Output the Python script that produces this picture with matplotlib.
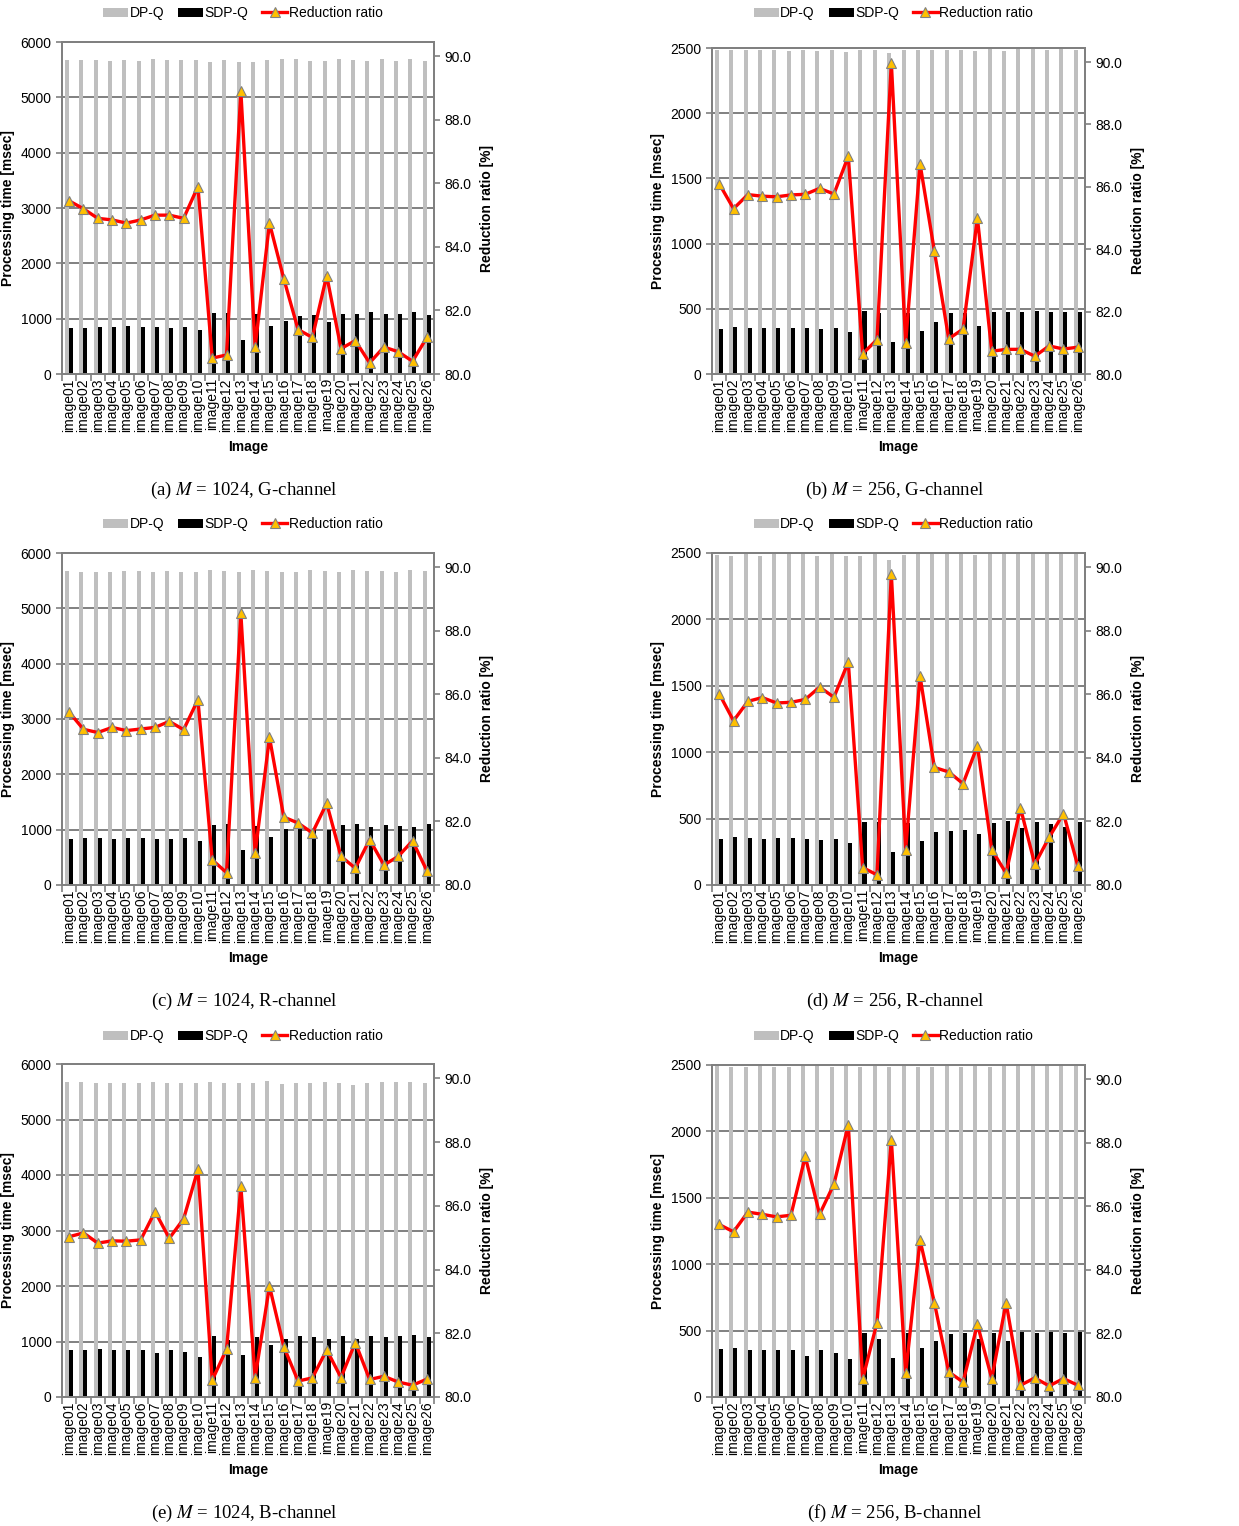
import matplotlib.pyplot as plt
from matplotlib.patches import Patch
from matplotlib.lines import Line2D
import numpy as np

images = [f"image{i:02d}" for i in range(1, 27)]

# (a) M = 1024, G-channel
dpq_a = [5680, 5670, 5675, 5665, 5675, 5660, 5694, 5670, 5680, 5670, 5645, 5675, 5640,
         5640, 5680, 5695, 5694, 5665, 5655, 5700, 5680, 5665, 5700, 5665, 5690, 5665]
sdpq_a = [826, 838, 850, 850, 868, 850, 844, 838, 850, 796, 1098, 1098, 621,
          1080, 862, 965, 1055, 1061, 947, 1092, 1080, 1116, 1092, 1092, 1116, 1061]
ratio_a = [85.45, 85.2, 84.9, 84.85, 84.75, 84.85, 85.0, 85.0, 84.9, 85.9, 80.5, 80.6, 88.9,
           80.85, 84.75, 83.0, 81.4, 81.15, 83.1, 80.8, 81.05, 80.35, 80.85, 80.7, 80.4, 81.15]

# (b) M = 256, G-channel
dpq_b = [2482, 2482, 2482, 2482, 2482, 2474, 2482, 2478, 2482, 2469, 2482, 2482, 2464,
         2482, 2482, 2482, 2482, 2482, 2478, 2492, 2474, 2500, 2490, 2482, 2500, 2482]
sdpq_b = [342, 363, 352, 352, 352, 350, 352, 347, 352, 322, 483, 465, 248,
          470, 330, 398, 470, 465, 368, 478, 472, 478, 483, 472, 478, 472]
ratio_b = [86.1, 85.3, 85.75, 85.7, 85.68, 85.74, 85.76, 85.95, 85.77, 86.98, 80.65, 81.1, 89.98,
           81.0, 86.74, 83.94, 81.13, 81.44, 85.0, 80.73, 80.79, 80.79, 80.57, 80.9, 80.8, 80.86]

# (c) M = 1024, R-channel
dpq_c = [5669, 5657, 5657, 5650, 5669, 5669, 5663, 5669, 5650, 5663, 5693, 5681, 5650,
         5693, 5669, 5657, 5657, 5687, 5675, 5663, 5687, 5681, 5669, 5663, 5693, 5681]
sdpq_c = [826, 850, 856, 838, 850, 844, 838, 832, 844, 796, 1085, 1110, 639,
          1073, 862, 1007, 1013, 995, 995, 1080, 1104, 1043, 1085, 1073, 1050, 1104]
ratio_c = [85.44, 84.9, 84.8, 84.96, 84.86, 84.91, 84.96, 85.15, 84.89, 85.83, 80.79, 80.39, 88.55,
           81.0, 84.65, 82.14, 81.95, 81.64, 82.57, 80.9, 80.53, 81.43, 80.63, 80.9, 81.39, 80.45]

# (d) M = 256, R-channel
dpq_d = [2487, 2480, 2492, 2480, 2492, 2492, 2492, 2480, 2492, 2475, 2480, 2492, 2450,
         2487, 2492, 2492, 2492, 2492, 2482, 2492, 2492, 2492, 2492, 2500, 2500, 2492]
sdpq_d = [344, 364, 352, 347, 352, 352, 349, 339, 347, 319, 477, 477, 249,
          470, 332, 402, 405, 415, 384, 465, 482, 432, 475, 460, 435, 475]
ratio_d = [86.02, 85.17, 85.78, 85.9, 85.73, 85.75, 85.84, 86.23, 85.91, 87.02, 80.55, 80.32, 89.79,
           81.11, 86.58, 83.7, 83.56, 83.19, 84.38, 81.11, 80.37, 82.43, 80.65, 81.5, 82.25, 80.6]

# (e) M = 1024, B-channel
dpq_e = [5668, 5674, 5656, 5656, 5656, 5656, 5668, 5656, 5656, 5656, 5668, 5656, 5656,
         5650, 5686, 5638, 5650, 5656, 5674, 5656, 5620, 5656, 5674, 5674, 5680, 5656]
sdpq_e = [842, 842, 860, 848, 854, 848, 800, 848, 812, 722, 1101, 1035, 752,
          1089, 933, 1041, 1101, 1089, 1047, 1095, 1041, 1095, 1089, 1107, 1113, 1089]
ratio_e = [85.03, 85.15, 84.83, 84.9, 84.89, 84.93, 85.82, 84.98, 85.59, 87.14, 80.53, 81.5, 86.61,
           80.61, 83.48, 81.58, 80.5, 80.6, 81.48, 80.61, 81.71, 80.55, 80.65, 80.47, 80.37, 80.56]

# (f) M = 256, B-channel
dpq_f = [2492, 2487, 2482, 2492, 2487, 2482, 2492, 2492, 2487, 2500, 2482, 2492, 2487,
         2500, 2482, 2487, 2492, 2482, 2492, 2487, 2492, 2492, 2492, 2492, 2492, 2500]
sdpq_f = [364, 369, 352, 357, 357, 354, 309, 354, 332, 284, 482, 440, 294,
          482, 372, 422, 477, 482, 440, 482, 422, 490, 482, 490, 482, 490]
ratio_f = [85.43, 85.2, 85.82, 85.75, 85.67, 85.72, 87.57, 85.75, 86.7, 88.57, 80.56, 82.34, 88.1,
           80.74, 84.94, 82.97, 80.79, 80.47, 82.29, 80.58, 82.97, 80.37, 80.6, 80.35, 80.58, 80.37]

W, H = 1239, 1526
plt.rcParams["font.family"] = ["Liberation Sans", "DejaVu Sans"]
plt.rcParams["mathtext.fontset"] = "stix"
fig = plt.figure(figsize=(W / 100, H / 100), dpi=100)

GRID = "#808080"
FS = 10
LINE_KW = dict(color="#ff0000", linewidth=2.4, marker="^", markersize=7,
               markerfacecolor="#ffc000", markeredgecolor="#808080", markeredgewidth=0.8)


def draw_panel(box, dpq, sdpq, ratio, ymax, ystep, caption):
    left, top, right, bottom = box
    ax = fig.add_axes([left / W, 1 - bottom / H, (right - left) / W, (bottom - top) / H])
    x = np.arange(len(images))
    ax.bar(x - 0.15, dpq, width=0.28, color="#bfbfbf", zorder=2)
    ax.bar(x + 0.13, sdpq, width=0.28, color="black", zorder=2)
    ax.set_xlim(-0.5, len(images) - 0.5)
    ax.set_ylim(0, ymax)
    ax.set_yticks(np.arange(0, ymax + 1, ystep))
    ax.grid(axis="y", color=GRID, linewidth=1.4, zorder=1)
    ax.set_axisbelow(True)
    ax.set_xticks(x)
    ax.set_xticklabels(images, rotation=90, fontsize=FS)
    ax.set_xticks(np.arange(-0.5, len(images)), minor=True)
    ax.tick_params(axis="x", which="major", length=0, pad=3)
    ax.tick_params(axis="x", which="minor", length=5, color=GRID, width=1.2)
    ax.tick_params(axis="y", length=4, color=GRID, width=1.2, labelsize=FS)
    for s in ax.spines.values():
        s.set_color(GRID)
        s.set_linewidth(1.4)
    ax.set_ylabel("Processing time [msec]", fontsize=FS, fontweight="bold", labelpad=4)
    ax.set_xlabel("Image", fontsize=FS, fontweight="bold", labelpad=6)

    ax2 = ax.twinx()
    ax2.plot(x, ratio, zorder=3, **LINE_KW)
    ax2.set_ylim(80, 90.45)
    ax2.set_yticks(np.arange(80, 90.1, 2))
    ax2.set_yticklabels([f"{v:.1f}" for v in np.arange(80, 90.1, 2)])
    ax2.tick_params(axis="y", length=4, color=GRID, width=1.2, labelsize=FS)
    for s in ax2.spines.values():
        s.set_color(GRID)
        s.set_linewidth(1.4)
    ax2.set_ylabel("Reduction ratio [%]", fontsize=FS, fontweight="bold", labelpad=6)

    handles = [
        Patch(facecolor="#bfbfbf", label="DP-Q"),
        Patch(facecolor="black", label="SDP-Q"),
        Line2D([0], [0], label="Reduction ratio", **LINE_KW),
    ]
    cx = (left + right) / 2 / W
    fig.legend(handles=handles, loc="center", bbox_to_anchor=(cx - 0.004, 1 - (bottom - 361) / H),
               ncol=3, frameon=False, fontsize=FS, handlelength=1.8, handleheight=0.6,
               handletextpad=0.1, columnspacing=1.0)

    fig.text(cx - 0.003, 1 - (bottom + 116) / H, caption, ha="center", va="center",
             fontsize=13.5, family="Liberation Serif")


draw_panel((62, 42, 434, 374), dpq_a, sdpq_a, ratio_a, 6000, 1000, "(a) $M$ = 1024, G-channel")
draw_panel((712, 48, 1085, 374), dpq_b, sdpq_b, ratio_b, 2500, 500, "(b) $M$ = 256, G-channel")
draw_panel((62, 553, 434, 885), dpq_c, sdpq_c, ratio_c, 6000, 1000, "(c) $M$ = 1024, R-channel")
draw_panel((712, 553, 1085, 885), dpq_d, sdpq_d, ratio_d, 2500, 500, "(d) $M$ = 256, R-channel")
draw_panel((62, 1064, 434, 1397), dpq_e, sdpq_e, ratio_e, 6000, 1000, "(e) $M$ = 1024, B-channel")
draw_panel((712, 1065, 1085, 1397), dpq_f, sdpq_f, ratio_f, 2500, 500, "(f) $M$ = 256, B-channel")

fig.savefig("out.png", dpi=100)
